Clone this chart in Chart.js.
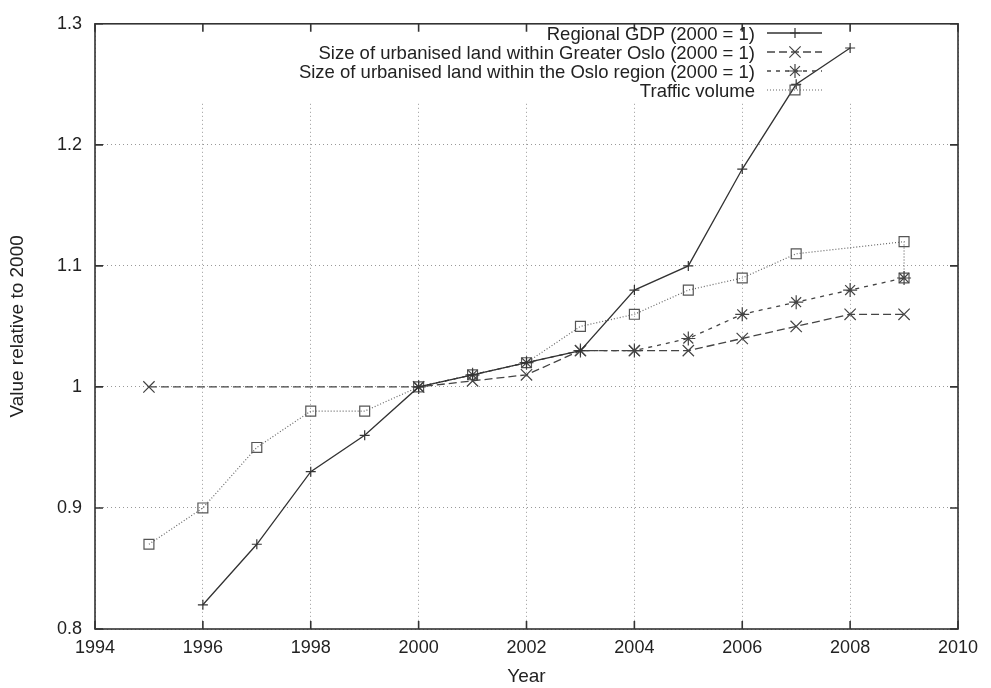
<!DOCTYPE html>
<html>
<head>
<meta charset="utf-8">
<script src="https://cdn.jsdelivr.net/npm/chart.js@4/dist/chart.umd.min.js"></script>
<style>
  html, body { margin: 0; padding: 0; background: #fff; }
  #wrap { width: 991px; height: 688px; }
</style>
</head>
<body>
<div id="wrap"><canvas id="grafico" width="991" height="688"></canvas></div>
<script>
// datos
const gdpYears = [1996, 1997, 1998, 1999, 2000, 2001, 2002, 2003, 2004, 2005, 2006, 2007, 2008];
const gdpValues = [0.82, 0.87, 0.93, 0.96, 1.00, 1.01, 1.02, 1.03, 1.08, 1.10, 1.18, 1.25, 1.28];

const greaterOsloYears = [1995, 2000, 2001, 2002, 2003, 2004, 2005, 2006, 2007, 2008, 2009];
const greaterOsloValues = [1.00, 1.00, 1.005, 1.01, 1.03, 1.03, 1.03, 1.04, 1.05, 1.06, 1.06];

const osloRegionYears = [2000, 2001, 2002, 2003, 2004, 2005, 2006, 2007, 2008, 2009];
const osloRegionValues = [1.00, 1.01, 1.02, 1.03, 1.03, 1.04, 1.06, 1.07, 1.08, 1.09];

const trafficYears = [1995, 1996, 1997, 1998, 1999, 2000, 2001, 2002, 2003, 2004, 2005, 2006, 2007, 2009, 2009];
const trafficValues = [0.87, 0.90, 0.95, 0.98, 0.98, 1.00, 1.01, 1.02, 1.05, 1.06, 1.08, 1.09, 1.11, 1.12, 1.09];

const seriesLabels = [
  'Regional GDP (2000 = 1)',
  'Size of urbanised land within Greater Oslo (2000 = 1)',
  'Size of urbanised land within the Oslo region (2000 = 1)',
  'Traffic volume'
];

const xTicks = [1994, 1996, 1998, 2000, 2002, 2004, 2006, 2008, 2010];
const yTicks = [0.8, 0.9, 1.0, 1.1, 1.2, 1.3];

const pares = (xs, ys) => xs.map((x, i) => ({ x: x, y: ys[i] }));

const FUENTE = '"Liberation Sans", Arial, Helvetica, sans-serif';
const TEXTO = '#222';

// marco, ticks hacia dentro y leyenda estilo gnuplot
const marcoGnuplot = {
  id: 'marcoGnuplot',
  beforeDatasetsDraw(chart) {
    const { ctx, chartArea } = chart;
    ctx.save();
    ctx.fillStyle = '#fff';
    ctx.fillRect(chartArea.left + 1, chartArea.top + 1, chartArea.right - chartArea.left - 2, 100 - chartArea.top);
    ctx.restore();
  },
  afterDatasetsDraw(chart) {
    const { ctx, chartArea, scales } = chart;
    const { left, right, top, bottom } = chartArea;
    ctx.save();
    ctx.strokeStyle = '#333';
    ctx.lineWidth = 1.6;
    ctx.setLineDash([]);
    ctx.strokeRect(left, top, right - left, bottom - top);

    const largo = 8;
    ctx.beginPath();
    scales.x.ticks.forEach(t => {
      const px = scales.x.getPixelForValue(t.value);
      ctx.moveTo(px, bottom); ctx.lineTo(px, bottom - largo);
      ctx.moveTo(px, top); ctx.lineTo(px, top + largo);
    });
    scales.y.ticks.forEach(t => {
      const py = scales.y.getPixelForValue(t.value);
      ctx.moveTo(left, py); ctx.lineTo(left + largo, py);
      ctx.moveTo(right, py); ctx.lineTo(right - largo, py);
    });
    ctx.stroke();

    // leyenda
    const xTexto = 755, x0 = 767, x1 = 822, xm = 795;
    ctx.font = '18.5px ' + FUENTE;
    ctx.textAlign = 'right';
    ctx.textBaseline = 'middle';
    chart.data.datasets.forEach((ds, i) => {
      const y = 33 + i * 19;
      ctx.fillStyle = TEXTO;
      ctx.fillText(ds.label, xTexto, y + 2);
      ctx.strokeStyle = ds.borderColor;
      ctx.lineWidth = ds.borderWidth;
      ctx.setLineDash(ds.borderDash || []);
      ctx.beginPath();
      ctx.moveTo(x0, y); ctx.lineTo(x1, y);
      ctx.stroke();
      ctx.setLineDash([]);
      ctx.lineWidth = ds.pointBorderWidth;
      ctx.strokeStyle = ds.pointBorderColor;
      ctx.fillStyle = 'rgba(0,0,0,0)';
      Chart.helpers.drawPoint(ctx, {
        pointStyle: ds.pointStyle, radius: ds.pointRadius, rotation: 0, borderWidth: ds.pointBorderWidth
      }, xm, y);
    });
    ctx.restore();
  }
};

new Chart(document.getElementById('grafico'), {
  type: 'scatter',
  data: {
    datasets: [
      {
        label: seriesLabels[0],
        data: pares(gdpYears, gdpValues),
        showLine: true,
        borderColor: '#333',
        borderWidth: 1.3,
        pointStyle: 'cross',
        pointRadius: 5,
        pointBorderWidth: 1.2,
        pointBorderColor: '#333',
        pointBackgroundColor: 'rgba(0,0,0,0)'
      },
      {
        label: seriesLabels[1],
        data: pares(greaterOsloYears, greaterOsloValues),
        showLine: true,
        borderColor: '#444',
        borderWidth: 1.3,
        borderDash: [8, 4],
        pointStyle: 'crossRot',
        pointRadius: 8,
        pointBorderWidth: 1.2,
        pointBorderColor: '#444',
        pointBackgroundColor: 'rgba(0,0,0,0)'
      },
      {
        label: seriesLabels[2],
        data: pares(osloRegionYears, osloRegionValues),
        showLine: true,
        borderColor: '#444',
        borderWidth: 1.3,
        borderDash: [4, 5],
        pointStyle: 'star',
        pointRadius: 7,
        pointBorderWidth: 1.2,
        pointBorderColor: '#444',
        pointBackgroundColor: 'rgba(0,0,0,0)'
      },
      {
        label: seriesLabels[3],
        data: pares(trafficYears, trafficValues),
        showLine: true,
        borderColor: '#666',
        borderWidth: 1.2,
        borderDash: [1, 2],
        pointStyle: 'rect',
        pointRadius: 7,
        pointBorderWidth: 1.2,
        pointBorderColor: '#555',
        pointBackgroundColor: 'rgba(0,0,0,0)'
      }
    ]
  },
  options: {
    responsive: false,
    animation: false,
    layout: { padding: { top: 14, right: 33, left: 0, bottom: 0 } },
    plugins: {
      legend: { display: false },
      tooltip: { enabled: false }
    },
    scales: {
      x: {
        type: 'linear',
        min: xTicks[0],
        max: xTicks[xTicks.length - 1],
        afterBuildTicks: s => { s.ticks = xTicks.map(v => ({ value: v })); },
        afterFit: s => { s.height = 59; },
        ticks: {
          padding: 8,
          color: TEXTO,
          font: { family: FUENTE, size: 18 },
          callback: v => String(v)
        },
        grid: { color: '#999', lineWidth: 1, drawTicks: false },
        border: { display: false, dash: [1, 3] },
        title: {
          display: true,
          text: 'Year',
          color: TEXTO,
          font: { family: FUENTE, size: 19 },
          padding: { top: 0, bottom: 0 }
        }
      },
      y: {
        type: 'linear',
        min: yTicks[0],
        max: yTicks[yTicks.length - 1],
        afterBuildTicks: s => { s.ticks = yTicks.map(v => ({ value: v })); },
        afterFit: s => { s.width = 95; },
        ticks: {
          padding: 13,
          color: TEXTO,
          font: { family: FUENTE, size: 18 },
          callback: v => String(+v.toFixed(1))
        },
        grid: { color: '#999', lineWidth: 1, drawTicks: false },
        border: { display: false, dash: [1, 3] },
        title: {
          display: true,
          text: 'Value relative to 2000',
          color: TEXTO,
          font: { family: FUENTE, size: 19 },
          padding: { top: 6, bottom: 0 }
        }
      }
    }
  },
  plugins: [marcoGnuplot]
});
</script>
</body>
</html>
